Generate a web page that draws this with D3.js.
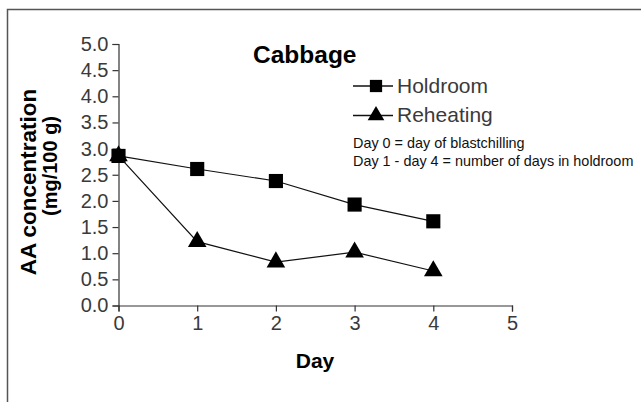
<!DOCTYPE html>
<html>
<head>
<meta charset="utf-8">
<script src="https://cdn.jsdelivr.net/npm/d3@7"></script>
<style>
  body { margin: 0; background: #fff; }
  text { font-family: "Liberation Sans", Arial, sans-serif; }
</style>
</head>
<body>
<div class="chart"></div>
<script>
// data
var days = [0, 1, 2, 3, 4]
var holdroom = [2.86, 2.61, 2.38, 1.93, 1.61]
var reheating = [2.86, 1.22, 0.83, 1.02, 0.66]
var yTicks = [0, 0.5, 1, 1.5, 2, 2.5, 3, 3.5, 4, 4.5, 5]
var xTicks = [0, 1, 2, 3, 4, 5]
var seriesNames = ["Holdroom", "Reheating"]
var notes = ["Day 0 = day of blastchilling", "Day 1 - day 4 = number of days in holdroom"]

const W = 641, H = 402
const svg = d3.select('.chart')
  .append('svg')
  .attr('width', W)
  .attr('height', H)

// frame (top + left only)
svg.append('path')
  .attr('d', 'M7.5,' + H + 'V9.5H' + W)
  .attr('fill', 'none')
  .attr('stroke', '#555')
  .attr('stroke-width', 1.5)

const x = d3.scaleLinear().domain([0, 5]).range([118.5, 512])
const y = d3.scaleLinear().domain([0, 5]).range([305.5, 44])

const yAxis = svg.append('g')
  .attr('transform', 'translate(118.5,0)')
  .call(d3.axisLeft(y).tickValues(yTicks).tickFormat(d3.format('.1f')).tickSize(6).tickPadding(4))
const xAxis = svg.append('g')
  .attr('transform', 'translate(0,305.5)')
  .call(d3.axisBottom(x).tickValues(xTicks).tickFormat(d3.format('d')).tickSize(6).tickPadding(4))

;[yAxis, xAxis].forEach(g => {
  g.select('.domain').attr('stroke', '#333').attr('stroke-width', 1.2)
  g.selectAll('.tick line').attr('stroke', '#333').attr('stroke-width', 1.2)
  g.selectAll('.tick text')
    .attr('fill', '#3a3a3a')
    .style('font-size', '20px')
    .style('font-family', '"Liberation Sans", Arial, sans-serif')
})

// axis titles
svg.append('text')
  .attr('transform', 'translate(36,182) rotate(-90)')
  .attr('text-anchor', 'middle')
  .style('font-size', '22.5px').style('font-weight', 'bold')
  .text('AA concentration')
svg.append('text')
  .attr('transform', 'translate(57,166) rotate(-90)')
  .attr('text-anchor', 'middle')
  .style('font-size', '20px').style('font-weight', 'bold')
  .text('(mg/100 g)')
svg.append('text')
  .attr('x', 315).attr('y', 368)
  .attr('text-anchor', 'middle')
  .style('font-size', '21px').style('font-weight', 'bold')
  .text('Day')

// title
svg.append('text')
  .attr('x', 253).attr('y', 63)
  .style('font-size', '24.5px').style('font-weight', 'bold')
  .text('Cabbage')

const line = d3.line().x(d => x(d[0])).y(d => y(d[1]))
const sq = d3.symbol().type(d3.symbolSquare).size(200)
const tri = d3.symbol().type(d3.symbolTriangle).size(150)
const sqSmall = d3.symbol().type(d3.symbolSquare).size(150)
const triSmall = d3.symbol().type(d3.symbolTriangle).size(120)

const series = [
  { name: seriesNames[0], vals: holdroom, sym: sq, key: sqSmall },
  { name: seriesNames[1], vals: reheating, sym: tri, key: triSmall }
]

series.forEach(s => {
  const pts = days.map((d, i) => [d, s.vals[i]])
  svg.append('path')
    .attr('d', line(pts))
    .attr('fill', 'none')
    .attr('stroke', '#111')
    .attr('stroke-width', 1.2)
  svg.selectAll(null)
    .data(pts)
    .enter()
    .append('path')
    .attr('d', s.sym)
    .attr('transform', d => 'translate(' + x(d[0]) + ',' + y(d[1]) + ')')
    .attr('fill', '#000')
})

// legend
series.forEach((s, i) => {
  const ly = 86 + i * 29.5
  svg.append('line')
    .attr('x1', 353).attr('x2', 393)
    .attr('y1', ly).attr('y2', ly)
    .attr('stroke', '#111').attr('stroke-width', 1.5)
  svg.append('path')
    .attr('d', s.key)
    .attr('transform', 'translate(376,' + ly + ')')
    .attr('fill', '#000')
  svg.append('text')
    .attr('x', 397).attr('y', ly + 6.5)
    .attr('fill', '#3a3a3a')
    .style('font-size', '21px')
    .text(s.name)
})

svg.selectAll('.note')
  .data(notes)
  .enter()
  .append('text')
  .attr('class', 'note')
  .attr('x', 353)
  .attr('y', (d, i) => 148 + i * 17.5)
  .attr('fill', '#111')
  .style('font-size', '14.4px')
  .text(d => d)
</script>
</body>
</html>
